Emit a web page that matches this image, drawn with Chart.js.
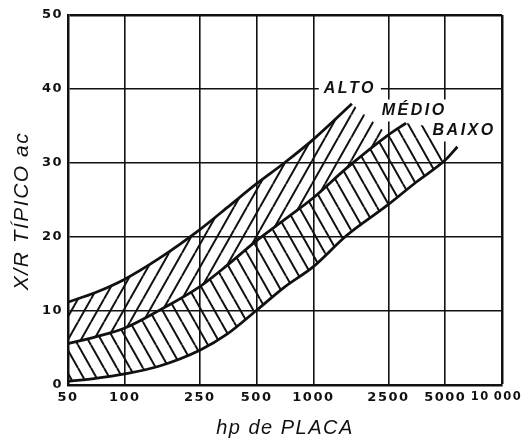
<!DOCTYPE html>
<html>
<head>
<meta charset="utf-8">
<script src="https://cdn.jsdelivr.net/npm/chart.js@4/dist/chart.umd.min.js"></script>
<style>
  html, body { margin: 0; padding: 0; background: #fff; }
  canvas { display: block; }
</style>
</head>
<body>
<canvas id="chart" width="521" height="441"></canvas>
<script>
// Eixo X logarítmico: potência de placa (hp)
const xTickValues = [50, 100, 250, 500, 1000, 2500, 5000, 10000];
const xTickLabels = ['50', '100', '250', '500', '1000', '2500', '5000', '10\u2009000\u00a0\u00a0'];
const yTickValues = [0, 10, 20, 30, 40, 50];
const yTickLabels = ['0', '10', '20', '30', '40', '50'];

// Curva ALTO
const altoHp = [50, 70, 100, 150, 250, 350, 500, 700, 1000, 1600];
const altoXR = [11.2, 12.5, 14.3, 17.0, 21.0, 24.0, 27.2, 30.0, 33.2, 38.0];
// Curva MÉDIO
const medioHp = [50, 70, 100, 150, 250, 350, 500, 700, 1000, 1500, 2500, 3100];
const medioXR = [5.6, 6.5, 7.7, 10.0, 13.3, 16.2, 19.5, 22.3, 25.3, 29.3, 33.8, 35.4];
// Curva BAIXO
const baixoHp = [50, 70, 100, 150, 250, 350, 500, 700, 1000, 1500, 2500, 3500, 5000, 5800];
const baixoXR = [0.5, 0.9, 1.5, 2.5, 4.7, 6.9, 10.1, 13.2, 16.0, 20.2, 24.4, 27.4, 30.4, 32.2];

// Fechamento das faixas hachuradas depois do fim de cada curva
const altoFechoHp = [1600, 2500];
const altoFechoXR = [38.0, 33.8];
const medioFechoHp = [3100, 4000, 5000];
const medioFechoXR = [35.4, 35.0, 30.4];

// Rótulos das curvas e seus pontos de ancoragem
const curveLabels = ['ALTO', 'MÉDIO', 'BAIXO'];
const labelHp = [1560, 3420, 6300];
const labelXR = [40.0, 37.1, 34.4];

const INK = '#111';

const pts = (xs, ys) => xs.map((v, i) => ({ x: v, y: ys[i] }));

// Padrão de hachura em diagonal
function hatch(dir) {
  const w = 13, h = 23;
  const c = document.createElement('canvas');
  c.width = w; c.height = h;
  const g = c.getContext('2d');
  g.strokeStyle = INK;
  g.lineWidth = 2;
  g.beginPath();
  for (const dx of [-w, 0, w]) {
    if (dir === '/') { g.moveTo(dx, h); g.lineTo(dx + w, 0); }
    else { g.moveTo(dx, 0); g.lineTo(dx + w, h); }
  }
  g.stroke();
  return g.createPattern(c, 'repeat');
}

const hatchUp = hatch('/');
const hatchDown = hatch('\\');

const curveStyle = {
  borderColor: INK,
  borderWidth: 2.8,
  pointRadius: 0,
  cubicInterpolationMode: 'monotone'
};
const closeStyle = {
  borderColor: 'transparent',
  borderWidth: 0,
  pointRadius: 0,
  tension: 0
};

const textSpacing = {
  id: 'textSpacing',
  beforeDraw(chart) { chart.ctx.letterSpacing = '1.5px'; }
};

const labelFont = 'italic bold 16px "Liberation Sans", Arial, sans-serif';
const curveNames = {
  id: 'curveNames',
  beforeDatasetsDraw(chart) {
    const { ctx, scales: { x, y } } = chart;
    ctx.save();
    ctx.font = labelFont;
    ctx.letterSpacing = '2.5px';
    ctx.fillStyle = '#fff';
    curveLabels.forEach((t, i) => {
      const px = x.getPixelForValue(labelHp[i]);
      const py = y.getPixelForValue(labelXR[i]);
      const w = ctx.measureText(t).width;
      ctx.fillRect(px - w / 2 - 5, py - 11, w + 10, 22);
    });
    ctx.restore();
  },
  afterDatasetsDraw(chart) {
    const { ctx, scales: { x, y } } = chart;
    ctx.save();
    ctx.font = labelFont;
    ctx.letterSpacing = '2.5px';
    ctx.fillStyle = INK;
    ctx.textAlign = 'center';
    ctx.textBaseline = 'middle';
    curveLabels.forEach((t, i) => {
      ctx.fillText(t, x.getPixelForValue(labelHp[i]), y.getPixelForValue(labelXR[i]));
    });
    ctx.restore();
  }
};

const tickFont = { family: '"DejaVu Sans", sans-serif', size: 13, weight: 'bold' };
const lastTickFont = { family: '"DejaVu Sans", sans-serif', size: 11.5, weight: 'bold' };

new Chart(document.getElementById('chart'), {
  type: 'line',
  data: {
    datasets: [
      { label: 'ALTO', data: pts(altoHp, altoXR), ...curveStyle, fill: 1, backgroundColor: hatchUp },
      { label: 'MÉDIO', data: pts(medioHp, medioXR), ...curveStyle, fill: 2, backgroundColor: hatchDown },
      { label: 'BAIXO', data: pts(baixoHp, baixoXR), ...curveStyle, fill: false },
      { label: 'ALTO fecho', data: pts(altoFechoHp, altoFechoXR), ...closeStyle, fill: 1, backgroundColor: hatchUp },
      { label: 'MÉDIO fecho', data: pts(medioFechoHp, medioFechoXR), ...closeStyle, fill: 2, backgroundColor: hatchDown }
    ]
  },
  options: {
    responsive: false,
    maintainAspectRatio: false,
    devicePixelRatio: 1,
    animation: false,
    events: [],
    layout: { padding: { left: 10, right: 19, top: 15, bottom: 1 } },
    plugins: {
      legend: { display: false },
      tooltip: { enabled: false }
    },
    scales: {
      x: {
        type: 'logarithmic',
        min: 50,
        max: 10000,
        afterBuildTicks: s => { s.ticks = xTickValues.map(v => ({ value: v })); },
        afterFit: s => { s.height = 55; s.paddingLeft = 0; s.paddingRight = 0; },
        ticks: {
          autoSkip: false, maxRotation: 0, minRotation: 0, padding: 5,
          color: INK,
          font: c => (c.tick && c.tick.value === 10000) ? lastTickFont : tickFont,
          callback: (v, i) => xTickLabels[i]
        },
        grid: {
          color: INK,
          drawTicks: false,
          lineWidth: c => (c.tick && c.tick.value === 10000) ? 2.5 : 1.6
        },
        border: { display: true, color: INK, width: 2.5 },
        title: {
          display: true, text: 'hp de PLACA', color: INK,
          font: { family: '"Liberation Sans", Arial, sans-serif', size: 20, style: 'italic' },
          padding: { top: 0, bottom: 0 }
        }
      },
      y: {
        type: 'linear',
        min: 0,
        max: 50,
        afterBuildTicks: s => { s.ticks = yTickValues.map(v => ({ value: v })); },
        afterFit: s => { s.width = 58; s.paddingTop = 0; s.paddingBottom = 0; },
        ticks: {
          padding: 5, color: INK, font: tickFont,
          callback: (v, i) => yTickLabels[i]
        },
        grid: {
          color: INK,
          drawTicks: false,
          lineWidth: c => (c.tick && c.tick.value === 50) ? 2.5 : 1.6
        },
        border: { display: true, color: INK, width: 2.5 },
        title: {
          display: true, text: 'X/R TÍPICO ac\u00a0\u00a0\u00a0', color: INK,
          font: { family: '"Liberation Sans", Arial, sans-serif', size: 21, style: 'italic' },
          padding: { top: 0, bottom: 0 }
        }
      }
    }
  },
  plugins: [textSpacing, curveNames]
});
</script>
</body>
</html>
